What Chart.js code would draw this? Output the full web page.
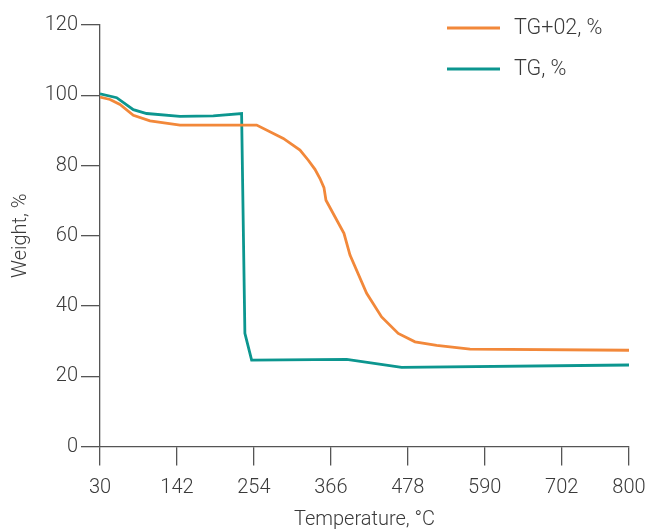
<!DOCTYPE html>
<html>
<head>
<meta charset="utf-8">
<script src="https://cdn.jsdelivr.net/npm/chart.js@4/dist/chart.umd.min.js"></script>
<style>
  html, body { margin: 0; padding: 0; background: #fff; overflow: hidden; }
  #wrap { width: 649px; height: 535px; }
</style>
</head>
<body>
<div id="wrap"><canvas id="c" width="649" height="535"></canvas></div>
<script>
// ---- data ----
const seriesNames = ['TG+02, %', 'TG, %'];
const seriesColors = ['#f2883a', '#0c968f'];

const tgo2Temps  = [30, 44.6, 59.1, 78.5, 102.8, 146.4, 200, 258, 296.8, 321.1, 333.2, 342.9, 350.2, 356, 358.9, 385.1, 393.9, 418.1, 439.9, 464.1, 488.5, 520, 568.6, 800];
const tgo2Values = [99.5, 98.8, 97.4, 94.3, 92.7, 91.5, 91.5, 91.5, 87.7, 84.4, 81.5, 78.9, 76.3, 73.7, 70.1, 60.7, 54.5, 43.6, 36.9, 32.2, 29.8, 28.8, 27.7, 27.4];

const tgTemps  = [30, 54.3, 78.5, 97.9, 146.4, 194.9, 236.1, 240.9, 250.7, 389.1, 469, 800];
const tgValues = [100.4, 99.3, 95.9, 94.8, 94.0, 94.1, 94.8, 32.2, 24.6, 24.8, 22.5, 23.2];

const xTickValues = [30, 142, 254, 366, 478, 590, 702, 800];
const yTickValues = [0, 20, 40, 60, 80, 100, 120];

// ---- chart ----
const FONT = "'Helvetica Neue', Roboto, 'Liberation Sans', sans-serif";
const TEXT = '#3a3a3a';
const AXIS = '#555555';

function toPoints(xs, ys) { return xs.map((x, i) => ({ x: x, y: ys[i] })); }

const legendPlugin = {
  id: 'insideLegend',
  afterDraw(chart) {
    const ctx = chart.ctx;
    ctx.save();
    ctx.font = '300 21.5px ' + FONT;
    ctx.textBaseline = 'middle';
    ctx.textAlign = 'left';
    chart.data.datasets.forEach((ds, i) => {
      const y = 28 + i * 41;
      ctx.strokeStyle = ds.borderColor;
      ctx.lineWidth = 3;
      ctx.beginPath();
      ctx.moveTo(447, y);
      ctx.lineTo(500, y);
      ctx.stroke();
      ctx.fillStyle = TEXT;
      ctx.fillText(ds.label, 514, y + 1);
    });
    ctx.restore();
  }
};

const tickFont = { family: FONT, size: 20, weight: '300' };

new Chart(document.getElementById('c'), {
  type: 'line',
  data: {
    datasets: [
      { label: seriesNames[0], data: toPoints(tgo2Temps, tgo2Values), borderColor: seriesColors[0], backgroundColor: seriesColors[0], borderWidth: 2.8, pointRadius: 0, tension: 0, fill: false },
      { label: seriesNames[1], data: toPoints(tgTemps, tgValues), borderColor: seriesColors[1], backgroundColor: seriesColors[1], borderWidth: 2.8, pointRadius: 0, tension: 0, fill: false }
    ]
  },
  options: {
    responsive: false,
    animation: false,
    devicePixelRatio: 1,
    layout: { padding: { left: 0, top: 25, right: 20, bottom: 0 } },
    plugins: { legend: { display: false }, tooltip: { enabled: false } },
    scales: {
      x: {
        type: 'linear',
        min: 30, max: 800,
        afterBuildTicks(scale) { scale.ticks = xTickValues.map(v => ({ value: v })); },
        afterFit(scale) { scale.height = 88.5; scale.paddingLeft = 0; scale.paddingRight = 0; },
        ticks: { color: TEXT, font: tickFont, padding: 10.5, maxRotation: 0, autoSkip: false },
        grid: { drawOnChartArea: false, drawTicks: true, tickLength: 19, color: AXIS, lineWidth: 1.3 },
        border: { color: AXIS, width: 1.3 },
        title: { display: true, text: 'Temperature, °C', color: TEXT, font: tickFont, padding: { top: 0, bottom: 3 } }
      },
      y: {
        min: 0, max: 120,
        afterBuildTicks(scale) { scale.ticks = yTickValues.map(v => ({ value: v })); },
        afterFit(scale) { scale.width = 100; scale.paddingTop = 0; scale.paddingBottom = 0; },
        ticks: { color: TEXT, font: tickFont, padding: 3 },
        grid: { drawOnChartArea: false, drawTicks: true, tickLength: 19, color: AXIS, lineWidth: 1.3 },
        border: { color: AXIS, width: 1.3 },
        title: { display: true, text: 'Weight, %', color: TEXT, font: tickFont, padding: { top: 9, bottom: 4 } }
      }
    }
  },
  plugins: [legendPlugin]
});
</script>
</body>
</html>
